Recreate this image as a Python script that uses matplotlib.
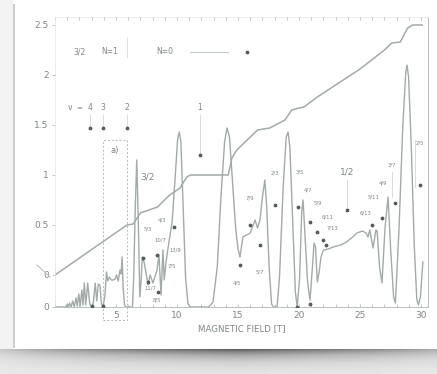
import numpy as np
import matplotlib

matplotlib.use("Agg")
import matplotlib.pyplot as plt
from matplotlib.patches import Rectangle

# Hall resistance staircase (units of h/e^2)
hall_field = [0.0, 5.9, 6.4, 7.0, 8.4, 9.4, 10.25, 10.8, 11.1, 14.2, 14.5, 14.9,
              16.6, 17.6, 18.85, 19.4, 20.0, 20.4, 21.5, 25.0, 27.0, 27.6, 28.3,
              28.9, 29.3, 30.1]
hall_res = [0.0, 0.50, 0.51, 0.62, 0.68, 0.80, 0.87, 0.98, 1.0, 1.0, 1.17, 1.25,
            1.45, 1.47, 1.55, 1.65, 1.67, 1.68, 1.78, 2.06, 2.25, 2.32, 2.33,
            2.47, 2.5, 2.5]

# longitudinal resistance, drawn on its own (lower) zero
rxx_field = [0.0, 0.9, 1.0, 1.1, 1.2, 1.32, 1.45, 1.58, 1.72, 1.83, 1.95, 2.07,
             2.2, 2.3, 2.4, 2.52, 2.68, 2.85, 3.03, 3.15, 3.3, 3.42, 3.55, 3.68,
             3.8, 3.93, 4.08, 4.22, 4.32, 4.45, 4.62, 4.78, 4.92, 5.05, 5.18,
             5.33, 5.42, 5.5, 5.58, 5.7, 5.8, 6.35, 6.45, 6.58, 6.7, 6.82, 6.95,
             7.05, 7.15, 7.3, 7.46, 7.62, 7.79, 8.03, 8.36, 8.52, 8.69, 8.85,
             8.95, 9.1, 9.3, 9.6, 9.85, 10.05, 10.18, 10.32, 10.5, 10.7, 10.9,
             11.1, 12.6, 12.95, 13.3, 13.6, 13.9, 14.1, 14.3, 14.55, 14.8, 15.0,
             15.16, 15.4, 15.7, 16.0, 16.4, 16.6, 16.8, 17.0, 17.2, 17.35,
             17.55, 17.75, 17.9, 18.2, 18.4, 18.7, 18.95, 19.1, 19.25, 19.5,
             19.7, 19.85, 20.05, 20.22, 20.33, 20.45, 20.7, 20.9, 21.1, 21.23,
             21.35, 21.5, 21.65, 21.8, 22.0, 22.4, 22.8, 23.4, 23.9, 24.4,
             24.75, 25.2, 25.5, 25.65, 25.8, 26.07, 26.3, 26.4, 26.6, 26.8,
             27.05, 27.3, 27.5, 27.75, 27.9, 28.2, 28.5, 28.75, 28.85, 28.98,
             29.2, 29.45, 29.65, 29.78, 29.95, 30.15]
rxx_res = [0.0, 0.0, 0.03, 0.0, 0.04, 0.0, 0.06, 0.0, 0.09, 0.01, 0.13, 0.01,
           0.17, 0.02, 0.24, 0.02, 0.24, 0.03, 0.0, 0.05, 0.24, 0.06, 0.23, 0.22,
           0.04, 0.0, 0.1, 0.35, 0.26, 0.3, 0.27, 0.27, 0.28, 0.32, 0.26,
           0.37, 0.33, 0.5, 0.2, 0.02, 0.0, 0.0, 0.3, 1.0, 1.47, 0.9, 0.1,
           0.25, 0.5, 0.45, 0.34, 0.22, 0.32, 0.24, 0.37, 0.52, 0.12, 0.57,
           0.27, 0.45, 0.62, 0.85, 1.3, 1.68, 1.75, 1.65, 1.0, 0.3, 0.03,
           0.0, 0.0, 0.05, 0.4, 1.1, 1.65, 1.79, 1.7, 1.25, 0.8, 0.58,
           0.5, 0.7, 0.72, 0.74, 0.87, 0.79, 0.87, 1.1, 1.27, 1.0,
           0.4, 0.03, 0.0, 0.0, 0.3, 1.2, 1.7, 1.75, 1.6, 0.8,
           0.15, 0.0, 0.3, 0.95, 1.07, 0.8, 0.25, 0.07, 0.4, 0.64,
           0.6, 0.25, 0.35, 0.5, 0.57, 0.58, 0.6, 0.62, 0.65, 0.7,
           0.74, 0.76, 0.74, 0.7, 0.77, 0.59, 0.77, 0.76, 0.4, 0.24,
           0.8, 1.1, 0.6, 0.1, 0.04, 0.8, 1.8, 2.35, 2.42, 2.3,
           1.6, 0.6, 0.08, 0.02, 0.1, 0.45]
RXX_ZERO = -0.32

# marker dots on the scan
dot_field = [2.87, 3.93, 5.90, 11.89, 15.74, 15.16, 15.98, 16.80, 18.03, 19.92,
             20.90, 21.48, 21.97, 22.21, 23.93, 19.84, 25.98, 26.80, 27.87,
             29.92, 7.21, 8.36, 7.62, 8.44, 9.75, 3.03, 3.93, 20.90]
dot_level = [1.47, 1.47, 1.47, 1.20, 2.23, 0.10, 0.50, 0.30, 0.70, 0.68,
             0.53, 0.43, 0.35, 0.30, 0.65, -0.32, 0.50, 0.57, 0.72,
             0.90, 0.17, 0.20, -0.07, -0.17, 0.48, -0.31, -0.31, -0.29]

# filling factor labels
frac_labels = ["4/3", "5/3", "10/7", "13/9", "7/5", "11/7", "8/5", "4/5", "7/9",
               "5/7", "2/3", "3/5", "4/7", "5/9", "6/11", "7/13", "6/13",
               "5/11", "4/9", "3/7", "2/5"]
frac_field = [8.77, 7.62, 8.61, 9.84, 9.59, 7.79, 8.36, 14.92, 15.98,
              16.80, 18.03, 20.08, 20.74, 21.56, 22.30, 22.70, 25.41,
              26.07, 26.89, 27.62, 29.92]
frac_level = [0.55, 0.46, 0.35, 0.25, 0.09, -0.13, -0.25, -0.08, 0.77,
              0.03, 1.02, 1.03, 0.85, 0.72, 0.58, 0.47, 0.62,
              0.78, 0.92, 1.10, 1.32]

nu_labels = ["4", "3", "2", "1"]
nu_field = [2.87, 3.93, 5.90, 11.89]
nu_dot = [1.47, 1.47, 1.47, 1.20]

x_ticks = [5, 10, 15, 20, 25, 30]
y_ticks = [RXX_ZERO, 0, 0.5, 1, 1.5, 2, 2.5]
y_ticklabels = ["0", "0", "0.5", "1", "1.5", "2", "2.5"]

LINE = "#a2aaaa"
TXT = "#7f8585"
W, H = 437, 374

fig = plt.figure(figsize=(W / 100, H / 100), dpi=100)

# photo frame + shadow behind the chart
bg = np.ones((H, W))
bg[:, :13] = 0.95
bg[4:348, 13:15] = 0.80
yy = np.arange(349, H)[:, None]
xx = np.arange(W)[None, :]
fade = np.exp(-(yy - 349) / 8.0)
across = np.clip(1 - np.abs(xx - 235) / 250.0, 0, 1) ** 0.5
bg[349:, :] = 0.92 - 0.55 * fade * across
bax = fig.add_axes([0, 0, 1, 1], zorder=0)
bax.imshow(bg, cmap="gray", vmin=0, vmax=1, extent=(0, 1, 0, 1), aspect="auto")
bax.axis("off")

ax = fig.add_axes([55 / W, 67 / H, 373 / W, 290 / H], zorder=1)
ax.patch.set_alpha(0)

ax.plot(hall_field, hall_res, color=LINE, lw=1.1)
ax.plot(rxx_field, np.array(rxx_res) + RXX_ZERO, color=LINE, lw=1.0)
ax.scatter(dot_field, dot_level, s=3, color="#555a5a", zorder=3)

for lab, b, lev in zip(frac_labels, frac_field, frac_level):
    ax.text(b, lev, lab, fontsize=3.8, color=TXT, ha="center", va="center")

ax.text(7.54, 0.98, "3/2", fontsize=6.5, color=TXT, ha="center", va="center")
ax.text(23.93, 1.03, "1/2", fontsize=6.5, color=TXT, ha="center", va="center")
ax.text(4.92, 1.25, "a)", fontsize=6, color=TXT, ha="center", va="center")

# top legend row
ax.text(2.05, 2.23, "3/2", fontsize=5.5, color=TXT, ha="center", va="center")
ax.text(4.51, 2.23, "N=1", fontsize=5.5, color=TXT, ha="center", va="center")
ax.text(9.02, 2.23, "N=0", fontsize=5.5, color=TXT, ha="center", va="center")
ax.plot([11.07, 14.18], [2.23, 2.23], color="#c4c9c9", lw=0.8)
ax.plot([5.9, 5.9], [2.18, 2.38], color="#d8dcdc", lw=0.6)

# filling factor row
ax.text(1.23, 1.67, "ν", fontsize=5.5, color=TXT, ha="center", va="center")
ax.text(1.97, 1.67, "=", fontsize=5, color=TXT, ha="center", va="center")
for lab, b, d in zip(nu_labels, nu_field, nu_dot):
    ax.text(b, 1.67, lab, fontsize=5.5, color=TXT, ha="center", va="center")
    ax.plot([b, b], [1.60, d + 0.02], color="#c8cdcd", lw=0.5)

for b, top, bot in [(23.93, 0.95, 0.67), (27.62, 1.03, 0.78), (29.5, 1.35, 0.88)]:
    ax.plot([b, b], [top, bot], color="#c8cdcd", lw=0.5)

box = Rectangle((3.93, -0.45), 1.97, 1.80, fill=False, ec="#b5bbbb",
                lw=0.7, ls=(0, (2, 2)), clip_on=False)
ax.add_patch(box)
ax.plot([-1.48, -0.41], [0.10, -0.02], color="#b5bbbb", lw=0.7, clip_on=False)

ax.set_xlim(0, 30.57)
ax.set_ylim(RXX_ZERO, 2.58)
ax.set_xticks(x_ticks)
ax.set_xticks(np.arange(0, 31, 1), minor=True)
ax.set_yticks(y_ticks)
ax.set_yticklabels(y_ticklabels)
ax.tick_params(axis="x", which="both", direction="in", top=True, colors="#b5bbbb",
               labelcolor=TXT, labelsize=6.5, length=2.5, width=0.6, pad=3)
ax.tick_params(axis="y", direction="out", colors="#b5bbbb", labelcolor=TXT,
               labelsize=6.5, length=2.5, width=0.6, pad=2)
for side in ["left", "top"]:
    ax.spines[side].set_color("#e2e5e5")
    ax.spines[side].set_linewidth(0.5)
for side in ["right", "bottom"]:
    ax.spines[side].set_color("#b8bebe")
    ax.spines[side].set_linewidth(0.7)

ax.set_xlabel("MAGNETIC FIELD [T]", fontsize=6.2, color=TXT, labelpad=3)

fig.savefig("out.png", dpi=100)
